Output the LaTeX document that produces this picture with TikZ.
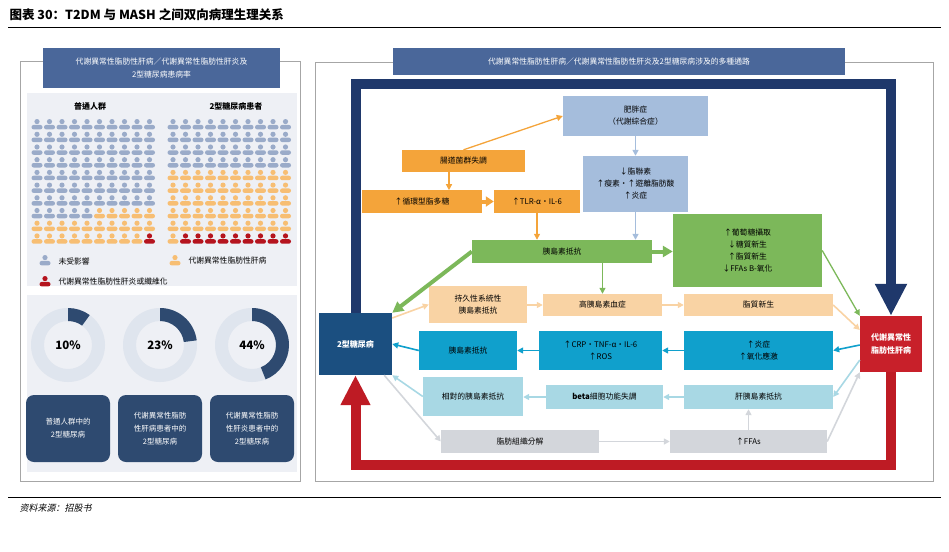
\documentclass[tikz,border=0pt]{standalone}
\usepackage{fontspec}
\setmainfont{Noto Sans CJK TC}
\newfontfamily\titlefont{Noto Sans CJK SC}
\newfontfamily\notefont{Noto Sans CJK SC}[FakeSlant=0.2]
\usetikzlibrary{arrows.meta,calc}
\definecolor{hdrblue}{HTML}{4A679A}
\definecolor{navy}{HTML}{1F386B}
\definecolor{panelbg}{HTML}{EEF0F5}
\definecolor{pblue}{HTML}{9AABC9}
\definecolor{porange}{HTML}{F7BE73}
\definecolor{pred}{HTML}{B5141E}
\definecolor{framered}{HTML}{BE1B24}
\definecolor{ringbg}{HTML}{DFE5EE}
\definecolor{ringfg}{HTML}{2E4A70}
\definecolor{obese}{HTML}{A5BDDC}
\definecolor{orng}{HTML}{F4A43A}
\definecolor{grn}{HTML}{7CB85A}
\definecolor{peach}{HTML}{F9D3A4}
\definecolor{teal}{HTML}{10A0CC}
\definecolor{lteal}{HTML}{A8D8E4}
\definecolor{gry}{HTML}{D3D6DB}
\definecolor{t2blue}{HTML}{1B4F80}
\definecolor{mashred}{HTML}{C8202A}
\tikzset{
  box/.style={minimum height=23, inner sep=1, align=center, font=\fontsize{7.8}{12}\selectfont},
  arr/.style={-{Triangle[width=6,length=6]}, line width=1.6},
}
\newcommand{\person}[3]{%
  \fill[#3] (#1,#2-2.4) circle (2.6);
  \fill[#3,rounded corners=2.2] (#1-5.5,#2+5.4) rectangle (#1+5.5,#2+0.9);}
\begin{document}
\begin{tikzpicture}[x=1pt,y=-1pt]
\useasboundingbox (0,0) rectangle (949,551);

% title
\node[anchor=west,font=\titlefont\bfseries\fontsize{12.5}{14}\selectfont] (title) at (6,15) {图表 30：T2DM 与 MASH 之间双向病理生理关系};
\draw[line width=1] (8,28) -- (941,28);
\draw[line width=0.6] (8,497) -- (941,497);
\node[anchor=west,font=\notefont\fontsize{9}{11}\selectfont] (note) at (16,508) {资料来源：招股书};

% left panel
\draw[gray!70,line width=0.8] (20,61) rectangle (300,481);
\node[fill=hdrblue,text=white,minimum width=237,minimum height=40,align=center,font=\fontsize{7.8}{13}\selectfont] (lhead) at (161.5,68) {代謝異常性脂肪性肝病／代謝異常性脂肪性肝炎及\\2型糖尿病患病率};
\fill[panelbg] (27,93) rectangle (297,286);
\node[font=\bfseries\fontsize{8}{9}\selectfont] (gen) at (90,106) {普通人群};
\node[font=\bfseries\fontsize{8}{9}\selectfont] (dia) at (236,106) {2型糖尿病患者};
\foreach \j in {0,...,9}{
  \foreach \i in {0,...,9}{
    \pgfmathtruncatemacro\n{10*\j+\i}
    \ifnum\n<75 \def\pc{pblue}\else\ifnum\n<99 \def\pc{porange}\else\def\pc{pred}\fi\fi
    \person{37+12.5*\i}{124+12.7*\j}{\pc}
    \ifnum\n<40 \def\pc{pblue}\else\ifnum\n<91 \def\pc{porange}\else\def\pc{pred}\fi\fi
    \person{173+12.5*\i}{124+12.7*\j}{\pc}
  }
}
\person{45}{260}{pblue}
\node[anchor=west,font=\fontsize{7.8}{9}\selectfont] (lg1) at (55,261) {未受影響};
\person{175}{260}{porange}
\node[anchor=west,font=\fontsize{7.8}{9}\selectfont] (lg2) at (185,261) {代謝異常性脂肪性肝病};
\person{45}{281}{pred}
\node[anchor=west,font=\fontsize{7.8}{9}\selectfont] (lg3) at (55,282) {代謝異常性脂肪性肝炎或纖維化};

\fill[panelbg] (27,295) rectangle (297,472);
\foreach \cx/\p/\lab in {68/10/10\%, 160/23/23\%, 252/44/44\%}{
  \fill[ringbg,even odd rule] (\cx,345) circle (37) circle (24);
  \fill[ringfg] ($(\cx,345)+(-90:37)$) arc[start angle=-90,end angle=-90+3.6*\p,radius=37]
    -- ($(\cx,345)+(-90+3.6*\p:24)$) arc[start angle=-90+3.6*\p,end angle=-90,radius=24] -- cycle;
  \node[font=\bfseries\fontsize{11.5}{13}\selectfont] at (\cx,345) {\lab};
}
\foreach \cx/\txt [count=\k] in {68/{普通人群中的\\2型糖尿病}, 160/{代謝異常性脂肪\\性肝病患者中的\\2型糖尿病}, 252/{代謝異常性脂肪\\性肝炎患者中的\\2型糖尿病}}{
  \node[fill=ringfg,text=white,rounded corners=8,minimum width=84,minimum height=67,align=center,font=\fontsize{7.5}{13}\selectfont] (rate\k) at (\cx,428.5) {\txt};
}

% right panel
\draw[gray!70,line width=0.8] (315,62) rectangle (933,481);
\node[fill=hdrblue,text=white,minimum width=452,minimum height=27,font=\fontsize{7.8}{9}\selectfont] (rhead) at (619,61.5) {代謝異常性脂肪性肝病／代謝異常性脂肪性肝炎及2型糖尿病涉及的多種通路};

\node[box,fill=obese,minimum width=145,minimum height=40] (obesity) at (635.5,116) {肥胖症\\（代謝綜合症）};
\node[box,fill=orng,minimum width=123,minimum height=22] (gut) at (463.5,161) {腸道菌群失調};
\node[box,fill=orng,minimum width=120] (lps) at (422,201.5) {↑循環型脂多糖};
\node[box,fill=orng,minimum width=86] (tlr) at (537,201.5) {↑TLR-α・IL-6};
\node[box,fill=obese,minimum width=105,minimum height=56] (adipo) at (635.5,184) {↓脂聯素\\↑瘦素・↑遊離脂肪酸\\↑炎症};
\node[box,fill=grn,minimum width=180] (irg) at (562,251.5) {胰島素抵抗};
\node[box,fill=grn,minimum width=149,minimum height=73] (gluc) at (747.5,250.5) {↑葡萄糖攝取\\↓糖質新生\\↑脂質新生\\↓FFAs B-氧化};
\node[box,fill=peach,minimum width=98,minimum height=37] (psir) at (478,304.5) {持久性系統性\\胰島素抵抗};
\node[box,fill=peach,minimum width=119,minimum height=22] (hyper) at (602.5,305) {高胰島素血症};
\node[box,fill=peach,minimum width=149,minimum height=22] (lipo) at (758.5,305) {脂質新生};
\node[box,fill=t2blue,text=white,minimum width=73,minimum height=62,font=\bfseries\fontsize{8}{9}\selectfont] (t2dm) at (355.5,344) {2型糖尿病};
\node[box,fill=mashred,text=white,minimum width=62,minimum height=56,font=\bfseries\fontsize{8}{13}\selectfont] (mash) at (891,344) {代謝異常性\\脂肪性肝病};
\node[box,fill=teal,minimum width=98,minimum height=39] (irt) at (468,350.5) {胰島素抵抗};
\node[box,fill=teal,minimum width=123,minimum height=39] (crp) at (600.5,350.5) {↑CRP・TNF-α・IL-6\\↑ROS};
\node[box,fill=teal,minimum width=149,minimum height=39] (infl) at (758.5,350.5) {↑炎症\\↑氧化應激};
\node[box,fill=lteal,minimum width=100,minimum height=39] (rel) at (473,396.5) {相對的胰島素抵抗};
\node[box,fill=lteal,minimum width=117,minimum height=24] (beta) at (604.5,397) {\textbf{beta}細胞功能失調};
\node[box,fill=lteal,minimum width=149,minimum height=24] (hir) at (758.5,397) {肝胰島素抵抗};
\node[box,fill=gry,minimum width=158] (lysis) at (520,441.5) {脂肪組織分解};
\node[box,fill=gry,minimum width=157] (ffa) at (748.5,441.5) {↑FFAs};

% big frame arrows
\draw[navy,line width=10,-{Triangle[width=30,length=32]}] (t2dm.north) -- ($(t2dm.north)+(0,-229)$) -- ($(mash.north)+(0,-232)$) -- (mash.north);
\draw[framered,line width=10,-{Triangle[width=28,length=30]}] (mash.south) -- ($(mash.south)+(0,93)$) -- ($(t2dm.south)+(0,90)$) -- (t2dm.south);

% connectors
\draw[arr,orng,line width=1.3] (gut.north) -- (obesity.west);
\draw[arr,orng,line width=1.3] (gut.south -| lps.north) ++(27,0) -- ++(0,18);
\draw[orng,line width=4,-{Triangle[width=10,length=8]}] (lps.east) -- (tlr.west);
\draw[arr,orng,line width=1.3] (tlr.south) -- (tlr.south |- irg.north);
\draw[arr,obese] (obesity.south) -- (adipo.north);
\draw[arr,obese] (adipo.south) -- (adipo.south |- irg.north);
\draw[grn,line width=4,-{Triangle[width=11,length=10]}] (irg.east) -- (gluc.west |- irg.east);
\draw[arr,grn,line width=1.3] (hyper.north |- irg.south) -- (hyper.north);
\draw[grn,line width=4,-{Triangle[width=11,length=11]}] (irg.west) -- (t2dm.north east);
\draw[arr,grn,line width=1.3] (gluc.east) -- (mash.north west);
\draw[arr,peach] ($(t2dm.east)+(0,-26)$) -- (psir.west);
\draw[arr,peach] (psir.east |- hyper.west) -- (hyper.west);
\draw[arr,peach] (hyper.east) -- (lipo.west);
\draw[arr,peach] (lipo.east) -- ($(mash.west)+(0,-14)$);
\draw[arr,teal] ($(mash.west)+(0,1)$) -- (infl.east);
\draw[arr,teal] (infl.west) -- (crp.east);
\draw[arr,teal] (crp.west) -- (irt.east);
\draw[arr,teal] (irt.west) -- (t2dm.east);
\draw[arr,lteal] ($(mash.west)+(0,16)$) -- (hir.east);
\draw[arr,lteal] (hir.west) -- (beta.east);
\draw[arr,lteal] (beta.west) -- (rel.east |- beta.west);
\draw[arr,lteal] (rel.west) -- (t2dm.south east);
\draw[arr,gry] ($(t2dm.south east)+(-8,0)$) -- (lysis.west);
\draw[arr,gry] (lysis.east) -- (ffa.west);
\draw[arr,gry] (ffa.north) -- (ffa.north |- hir.south);
\draw[arr,gry] (ffa.east) -- (mash.south west);
\end{tikzpicture}
\end{document}
